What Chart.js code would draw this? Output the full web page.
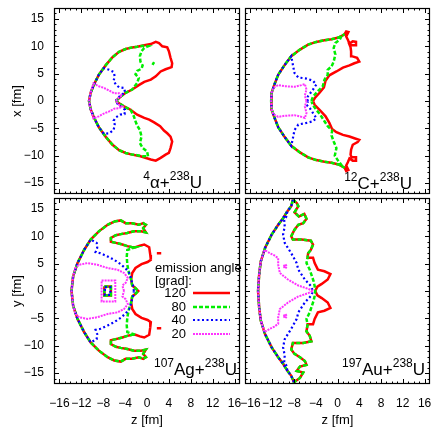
<!DOCTYPE html>
<html>
<head>
<meta charset="utf-8">
<script src="https://cdn.jsdelivr.net/npm/chart.js@4/dist/chart.umd.min.js"></script>
<style>
  body { margin: 0; background: #fff; }
  #wrap { position: relative; width: 435px; height: 429px; }
  #wrap canvas { position: absolute; left: 0; top: 0; }
</style>
</head>
<body>
<div id="wrap">
  <canvas id="c1" width="435" height="429"></canvas>
  <canvas id="c2" width="435" height="429"></canvas>
  <canvas id="c3" width="435" height="429"></canvas>
  <canvas id="c4" width="435" height="429"></canvas>
</div>
<script>
// axis setup shared by all four panels
const axisMin = -17, axisMax = 17;
const xTickValues = [-16, -12, -8, -4, 0, 4, 8, 12, 16];
const yTickValues = [-15, -10, -5, 0, 5, 10, 15];
const angleLabels = ['120', '80', '40', '20'];

// contour points [z, x/y] in fm, null = pen up

// 4He + 238U
const alphaRim = [[-2.7,9.8],[-3.9,9.5],[-5.1,9.0],[-6.3,8.0],[-7.5,6.6],[-8.8,4.8],[-9.7,3.0],[-10.3,1.5],[-10.6,0],
  [-10.3,-1.5],[-9.7,-3.0],[-8.8,-4.8],[-7.5,-6.6],[-6.3,-8.0],[-5.1,-9.0],[-3.9,-9.5],[-2.7,-9.8]];
const alpha120 = [[-5.7,0],[-4.8,0.8],[-3.9,1.5],[-2.7,2.1],[-1.5,2.9],[-0.5,3.5],[0.7,3.9],[1.6,4.5],[2.5,5.4],[3.4,5.8],
  [4.5,6.2],[4.6,6.9],[4.3,7.9],[4.0,9.1],[3.7,9.8],[2.8,10.0],[2.2,10.6],[1.6,10.8],[0.7,10.4],[-0.5,10.2],[-1.8,9.9],
  ...alphaRim,
  [-1.2,-10.1],[0.7,-10.7],[1.6,-10.9],[2.5,-10.4],[3.4,-9.8],[4.0,-9.5],[4.3,-8.6],[4.6,-7.4],[4.3,-6.5],[3.7,-5.9],
  [3.1,-5.4],[2.4,-4.6],[1.3,-3.9],[0.4,-3.4],[-0.5,-3.1],[-1.8,-2.5],[-3.0,-1.6],[-4.2,-1.0],[-5.1,-0.4],[-5.7,0]];
const alpha80 = [[-5.7,0],[-4.8,0.8],[-3.9,1.5],[-2.7,2.1],[-1.8,3.3],[-1.5,4.2],[-2.1,4.9],[-1.8,5.5],[-1.0,5.9],[-0.8,6.5],
  [-1.2,7.2],[-1.3,8.2],[-1.0,9.1],[-0.5,9.7],[0.2,10.0],[-0.8,10.1],[-1.8,9.9],
  ...alphaRim,
  [-1.8,-9.9],[-0.8,-10.1],[0.2,-10.1],[0.0,-9.2],[-0.8,-8.6],[-1.3,-7.7],[-1.0,-6.5],[-1.3,-5.3],[-1.8,-4.5],[-2.1,-3.7],
  [-2.4,-2.8],[-3.0,-1.6],[-4.2,-1.0],[-5.1,-0.4],[-5.7,0],
  null,[1.0,6.6],[1.3,7.1]];
const alpha40 = [[-5.7,0],[-5.4,0.5],[-4.8,1.0],[-4.0,1.6],[-4.2,2.4],[-5.1,2.5],[-5.7,3.0],[-6.1,3.7],[-5.9,4.5],[-6.1,5.3],
  [-6.9,5.7],[-7.9,6.0],[-8.8,4.8],[-9.7,3.0],[-10.3,1.5],[-10.6,0],[-10.3,-1.5],[-9.7,-3.0],[-8.8,-4.8],[-7.9,-6.0],
  [-6.9,-5.9],[-6.1,-5.3],[-5.9,-4.3],[-6.1,-3.6],[-5.7,-3.0],[-4.9,-2.5],[-4.1,-2.4],[-4.0,-1.6],[-4.8,-1.0],[-5.4,-0.5],[-5.7,0]];
const alpha20 = [[-5.7,0],[-5.1,0.7],[-4.5,1.0],[-5.1,1.4],[-6.0,1.4],[-6.9,1.9],[-7.9,2.4],[-8.8,2.7],[-9.8,3.2],[-10.3,1.5],
  [-10.6,0],[-10.3,-1.5],[-9.8,-3.2],[-8.8,-2.8],[-7.9,-2.3],[-6.9,-1.9],[-6.0,-1.4],[-5.1,-1.3],[-4.5,-1.0],[-5.1,-0.7],[-5.7,0]];

// 12C + 238U
const carbonRim = [[1.3,12.2],[0.2,11.6],[-1.1,11.3],[-2.4,11.1],[-3.9,10.8],[-5.4,10.3],[-6.9,9.4],[-8.5,8.2],[-9.7,6.6],
  [-10.9,4.8],[-11.6,3.0],[-12.1,1.5],[-12.2,0],[-12.1,-1.5],[-11.6,-3.0],[-10.9,-4.8],[-9.7,-6.6],[-8.5,-8.2],[-6.9,-9.4],
  [-5.4,-10.3],[-3.9,-10.8],[-2.4,-11.1],[-1.1,-11.3],[0.2,-11.6],[1.3,-12.2]];
const carbon120 = [[-4.5,0],[-4.2,0.5],[-3.3,1.5],[-2.5,2.5],[-2.2,3.7],[-1.5,4.7],[-0.2,5.4],[1.0,6.1],[2.2,6.5],[3.1,6.9],
  [4.0,7.2],[3.6,7.9],[2.6,8.2],[2.5,9.1],[2.4,9.8],[2.2,10.3],[2.6,10.2],[3.4,10.2],[3.4,10.8],[2.8,10.9],[2.2,10.5],
  [1.9,11.2],[1.6,11.8],[2.0,12.6],[1.6,12.7],
  ...carbonRim,
  [1.6,-12.8],[2.0,-12.6],[1.6,-11.8],[1.9,-11.2],[2.2,-10.5],[2.8,-10.9],[3.4,-10.9],[3.4,-10.3],[2.6,-10.3],[2.4,-9.8],
  [2.5,-8.9],[2.8,-8.0],[3.7,-7.5],[4.0,-7.1],[3.1,-6.8],[2.2,-6.5],[1.0,-6.2],[-0.2,-5.7],[-1.0,-5.1],[-1.5,-4.0],
  [-2.2,-2.8],[-3.3,-1.6],[-4.2,-0.7],[-4.5,0]];
const carbon80 = [[-4.8,0],[-4.5,0.8],[-3.6,1.8],[-2.7,2.7],[-2.4,3.9],[-1.8,4.8],[-1.8,5.7],[-1.1,6.3],[-0.7,7.2],[-0.4,8.5],
  [-0.7,9.7],[-0.4,10.6],[0.4,11.2],[0.8,12.0],
  ...carbonRim,
  [0.8,-11.8],[0.1,-10.9],[-0.5,-10.0],[-0.2,-8.6],[-0.7,-7.4],[-1.1,-6.3],[-1.0,-5.4],[-1.8,-4.6],[-2.4,-3.7],[-3.1,-2.6],
  [-3.9,-1.6],[-4.5,-0.8],[-4.8,0]];
const carbon40 = [[-5.4,0],[-5.7,0.5],[-5.1,1.3],[-4.5,2.1],[-3.9,3.0],[-4.5,3.7],[-5.7,4.1],[-7.2,4.3],[-7.9,5.1],[-8.2,6.6],
  [-8.5,8.2],[-9.7,6.6],[-10.9,4.8],[-11.6,3.0],[-12.1,1.5],[-12.2,0],[-12.1,-1.5],[-11.6,-3.0],[-10.9,-4.8],[-9.7,-6.6],
  [-8.5,-8.2],[-8.2,-6.8],[-7.9,-5.3],[-7.2,-4.3],[-5.7,-4.0],[-4.5,-3.7],[-3.9,-3.1],[-4.5,-2.2],[-5.1,-1.3],[-5.7,-0.7],[-5.4,0]];
const carbon20 = [[-5.7,0],[-6.0,1.0],[-5.7,2.1],[-6.0,3.1],[-6.6,2.9],[-7.9,2.6],[-9.7,2.7],[-10.9,2.9],[-11.8,2.4],[-12.1,1.5],
  [-12.2,0],[-12.1,-1.5],[-11.8,-2.4],[-10.9,-2.9],[-9.7,-2.7],[-7.9,-2.6],[-6.6,-2.9],[-6.0,-3.1],[-5.7,-2.2],[-6.0,-1.0],[-5.7,0]];

// 107Ag + 238U
const silverTop = [[-6.0,12.7],[-4.8,12.9],[-3.9,12.4],[-2.7,12.4],[-1.5,12.1],[-0.7,12.4],[-0.2,12.1],[-0.7,11.5],[-0.2,10.7],
  [-1.1,10.9],[-2.4,10.9],[-3.6,10.6],[-4.8,10.4],[-5.7,10.2],[-6.6,9.7],[-6.6,9.0],[-5.7,8.8],[-4.5,8.5],[-3.6,8.2],[-2.7,8.0],[-2.1,8.0]];
const silverBottom = [[-2.1,-8.0],[-2.7,-8.0],[-3.6,-8.2],[-4.5,-8.5],[-5.7,-8.8],[-6.6,-9.0],[-6.6,-9.7],[-5.7,-10.2],[-4.8,-10.4],
  [-3.6,-10.6],[-2.4,-10.9],[-1.1,-10.9],[-0.2,-10.7],[-0.7,-11.5],[-0.2,-12.1],[-0.7,-12.4],[-1.5,-12.1],[-2.7,-12.4],
  [-3.9,-12.4],[-4.8,-12.9],[-6.0,-12.7]];
const silverRim = [[-6.0,-12.7],[-7.2,-12.1],[-8.8,-10.9],[-10.3,-9.4],[-11.5,-7.5],[-12.7,-5.1],[-13.5,-2.7],[-13.8,0],
  [-13.5,2.7],[-12.7,5.1],[-11.5,7.5],[-10.3,9.4],[-8.8,10.9],[-7.2,12.1],[-6.0,12.7]];
const silver120 = [...silverTop,
  [-1.3,8.3],[-0.5,8.5],[0.4,8.0],[0.6,6.6],[0.7,5.7],[0.1,5.3],[-1.0,4.9],[-2.1,4.2],[-2.7,3.3],[-2.9,2.1],[-2.7,1.0],
  [-2.1,0.5],[-1.6,0],[-2.1,-0.5],[-2.7,-1.0],[-2.9,-2.1],[-2.7,-3.3],[-2.1,-4.2],[-1.0,-4.9],[0.1,-5.3],[0.7,-5.7],
  [0.6,-6.6],[0.4,-8.0],[-0.5,-8.5],[-1.3,-8.3],
  ...silverBottom, ...silverRim,
  null,[-7.8,0.8],[-6.6,0.8],[-6.6,-0.8],[-7.8,-0.8],[-7.8,0.8],
  null,[1.8,6.9],[2.6,6.9],
  null,[1.8,-6.8],[2.6,-6.8]];
const silver80 = [...silverTop,
  [-3.6,7.5],[-3.7,6.3],[-3.6,4.8],[-3.3,3.3],[-2.9,2.1],[-2.7,1.0],[-2.1,0.5],[-1.6,0],[-2.1,-0.5],[-2.7,-1.0],[-2.9,-2.1],
  [-3.3,-3.3],[-3.6,-4.8],[-3.7,-6.3],[-3.6,-7.5],
  ...silverBottom, ...silverRim,
  null,[-7.8,0.8],[-6.6,0.8],[-6.6,-0.8],[-7.8,-0.8],[-7.8,0.8]];
const silver40 = [[-2.4,0],[-2.5,0.8],[-2.9,2.1],[-3.1,3.1],[-3.9,4.1],[-4.8,4.9],[-6.0,5.7],[-7.2,6.3],[-8.5,6.9],[-9.4,7.1],
  [-9.1,7.9],[-9.2,8.8],[-10.3,9.4],[-11.5,7.5],[-12.7,5.1],[-13.5,2.7],[-13.8,0],[-13.5,-2.7],[-12.7,-5.1],[-11.5,-7.5],
  [-10.3,-9.4],[-9.2,-8.8],[-9.1,-7.9],[-9.4,-7.1],[-8.5,-6.9],[-7.2,-6.3],[-6.0,-5.7],[-4.8,-4.9],[-3.9,-4.1],[-3.1,-3.1],
  [-2.9,-2.1],[-2.5,-0.8],[-2.4,0],
  null,[-7.7,0.7],[-6.7,0.7],[-6.7,-0.7],[-7.7,-0.7],[-7.7,0.7]];
const silver20 = [[-4.2,0],[-4.5,1.0],[-3.9,1.5],[-3.5,2.4],[-4.2,3.3],[-5.4,3.9],[-7.2,4.2],[-9.1,4.8],[-10.9,5.1],[-12.4,4.8],
  [-13.1,4.2],[-13.5,2.7],[-13.8,0],[-13.5,-2.7],[-13.1,-4.2],[-12.4,-4.8],[-10.9,-5.1],[-9.1,-4.8],[-7.2,-4.2],[-5.4,-3.9],
  [-4.2,-3.3],[-3.5,-2.4],[-3.9,-1.5],[-4.5,-1.0],[-4.2,0],
  null,[-8.3,1.9],[-5.8,1.9],[-5.8,-1.9],[-8.3,-1.9],[-8.3,1.9]];

// 197Au + 238U
const goldTop = [[-8.2,16.7],[-7.5,16.1],[-7.2,15.5],[-7.9,14.4],[-7.1,13.6],[-6.1,14.1],[-5.7,13.2],[-6.3,12.4],[-7.2,12.1],
  [-7.9,11.2],[-8.5,10.0],[-8.2,9.4],[-6.6,9.4],[-4.9,9.2],[-4.5,8.5],[-4.9,7.5],[-5.4,6.9],[-5.5,6.1]];
const goldBottom = [[-5.5,-6.1],[-5.7,-7.4],[-5.1,-8.2],[-4.8,-9.2],[-6.3,-9.5],[-8.2,-9.5],[-8.5,-10.7],[-7.9,-11.5],[-6.9,-12.1],
  [-6.0,-12.8],[-5.7,-13.5],[-6.9,-13.8],[-7.5,-14.6],[-6.3,-14.9],[-6.9,-15.9],[-8.0,-16.7]];
const goldRim = [[-8.0,-16.7],[-8.5,-15.5],[-9.2,-14.6],[-10.0,-13.3],[-10.9,-12.1],[-12.1,-10.3],[-13.3,-7.9],[-14.1,-5.4],
  [-14.4,-3.0],[-14.6,0],[-14.4,3.0],[-14.1,5.4],[-13.3,7.9],[-12.1,10.3],[-10.9,12.1],[-10.0,13.3],[-9.2,14.6],[-8.5,15.5],[-8.2,16.7]];
const gold120 = [...goldTop,
  [-4.5,6.1],[-4.2,5.1],[-3.6,3.9],[-2.4,3.6],[-1.3,3.1],[-1.8,2.1],[-2.9,1.3],[-3.7,0.8],[-4.1,0],[-3.7,-0.8],[-2.9,-1.3],
  [-1.8,-2.1],[-1.3,-3.1],[-2.4,-3.6],[-3.6,-3.9],[-4.2,-5.1],[-4.5,-6.1],
  ...goldBottom, ...goldRim];
const gold80 = [...goldTop,
  [-5.7,5.1],[-5.1,3.9],[-4.8,3.0],[-4.4,1.8],[-4.2,0.9],[-4.1,0],[-4.2,-0.9],[-4.4,-1.8],[-4.8,-3.0],[-5.1,-3.9],[-5.7,-5.1],
  ...goldBottom, ...goldRim];
const gold40 = [[-8.2,16.7],[-8.5,15.5],[-9.2,14.6],[-9.4,13.6],[-9.8,13.0],[-9.7,11.8],[-10.0,10.3],[-9.7,8.8],[-8.5,6.9],
  [-7.5,5.1],[-7.2,3.9],[-6.0,2.1],[-4.9,0.9],[-4.5,0],[-4.9,-0.9],[-6.0,-2.1],[-7.2,-3.9],[-7.5,-5.1],[-8.5,-6.9],
  [-9.7,-8.8],[-10.0,-10.3],[-9.7,-11.8],[-9.8,-13.0],[-9.4,-13.6],[-9.2,-14.6],[-8.5,-15.5],[-8.0,-16.7],
  null, ...goldRim.slice(2, 17)];
const gold20 = [[-4.5,0],[-5.4,0.4],[-7.2,1.0],[-9.1,2.1],[-10.6,3.3],[-10.9,4.8],[-10.9,6.0],[-11.6,6.5],[-12.4,6.9],[-13.4,7.5],
  [-14.1,5.4],[-14.4,3.0],[-14.6,0],[-14.4,-3.0],[-14.1,-5.4],[-13.4,-7.5],[-12.4,-6.9],[-11.6,-6.5],[-10.9,-6.0],[-10.9,-4.8],
  [-10.6,-3.3],[-9.1,-2.1],[-7.2,-1.0],[-5.4,-0.4],[-4.5,0],
  null,[-9.9,4.5],[-9.6,4.9],[-9.3,4.5],[-9.6,4.1],[-9.9,4.5],
  null,[-9.9,-4.6],[-9.6,-4.2],[-9.3,-4.6],[-9.6,-5.0],[-9.9,-4.6]];

// line styles per emission angle (gnuplot look)
const lineStyles = [
  { color: '#ff0000', width: 2.5, dash: [] },
  { color: '#00ee00', width: 2.5, dash: [4, 2] },
  { color: '#0000ff', width: 2.2, dash: [2, 2.5] },
  { color: '#ff33ff', width: 2, dash: [2, 1] }
];

const W = 435, H = 429;
const FONT = "'Liberation Sans', Arial, sans-serif";
Chart.defaults.font.family = FONT;
Chart.defaults.color = '#000';

const panels = [
  { id: 'c1', box: [54, 8, 240, 194], series: [alpha120, alpha80, alpha40, alpha20], xLabels: false, yLabels: true,
    yTitle: 'x [fm]', tag: [['4', 1], ['\u03b1+', 0], ['238', 1], ['U', 0]], tagAt: [202, 188] },
  { id: 'c2', box: [245, 8, 430, 194], series: [carbon120, carbon80, carbon40, carbon20], xLabels: false, yLabels: false,
    tag: [['12', 1], ['C+', 0], ['238', 1], ['U', 0]], tagAt: [412, 189] },
  { id: 'c3', box: [54, 198, 240, 384], series: [silver120, silver80, silver40, silver20], xLabels: true, yLabels: true,
    yTitle: 'y [fm]', xTitle: 'z [fm]', legend: true, tag: [['107', 1], ['Ag+', 0], ['238', 1], ['U', 0]], tagAt: [237, 375] },
  { id: 'c4', box: [245, 198, 430, 384], series: [gold120, gold80, gold40, gold20], xLabels: true, yLabels: false,
    xTitle: 'z [fm]', tag: [['197', 1], ['Au+', 0], ['238', 1], ['U', 0]], tagAt: [425, 375] }
];

function toPoints(list) {
  return list.map(p => p ? { x: p[0], y: p[1] } : { x: null, y: null });
}

function tickText(v) {
  return v < 0 ? '\u2212' + Math.abs(v) : String(v);
}

function noPadding(s) {
  s.paddingTop = s.paddingBottom = s.paddingLeft = s.paddingRight = 0;
}

function drawTag(ctx, parts, right, base) {
  const big = '17px ' + FONT, small = '12px ' + FONT;
  let w = 0;
  parts.forEach(([t, sup]) => { ctx.font = sup ? small : big; w += ctx.measureText(t).width; });
  let x = right - w;
  ctx.textAlign = 'left';
  ctx.textBaseline = 'alphabetic';
  parts.forEach(([t, sup]) => {
    ctx.font = sup ? small : big;
    ctx.fillText(t, x, sup ? base - 8.5 : base);
    x += ctx.measureText(t).width;
  });
}

function drawLegend(ctx) {
  ctx.font = '13px ' + FONT;
  ctx.textBaseline = 'alphabetic';
  ctx.textAlign = 'left';
  ctx.fillText('emission angle', 155, 272);
  ctx.fillText('[grad]:', 155, 285);
  angleLabels.forEach((lab, i) => {
    const y = Math.round(293 + i * 13.6);
    ctx.textAlign = 'right';
    ctx.textBaseline = 'middle';
    ctx.fillStyle = '#000';
    ctx.fillText(lab, 186, y);
    const s = lineStyles[i];
    ctx.save();
    ctx.beginPath();
    ctx.strokeStyle = s.color;
    ctx.lineWidth = s.width;
    ctx.setLineDash(s.dash);
    ctx.moveTo(193, y);
    ctx.lineTo(230, y);
    ctx.stroke();
    ctx.restore();
  });
}

function makeDecor(p) {
  return {
    id: 'decor',
    afterDraw(chart) {
      const { ctx, chartArea: a, scales: { x, y } } = chart;
      ctx.save();
      // frame with inward ticks on all sides
      ctx.strokeStyle = '#000';
      ctx.lineWidth = 1.2;
      ctx.strokeRect(a.left + 0.5, a.top + 0.5, a.right - a.left - 1, a.bottom - a.top - 1);
      ctx.lineWidth = 1;
      ctx.beginPath();
      for (let v = axisMin + 1; v < axisMax; v++) {
        const lx = xTickValues.includes(v) ? 5 : 2.5;
        const px = Math.round(x.getPixelForValue(v)) + 0.5;
        ctx.moveTo(px, a.bottom); ctx.lineTo(px, a.bottom - lx);
        ctx.moveTo(px, a.top); ctx.lineTo(px, a.top + lx);
        const ly = yTickValues.includes(v) ? 5 : 2.5;
        const py = Math.round(y.getPixelForValue(v)) + 0.5;
        ctx.moveTo(a.left, py); ctx.lineTo(a.left + ly, py);
        ctx.moveTo(a.right, py); ctx.lineTo(a.right - ly, py);
      }
      ctx.stroke();

      ctx.fillStyle = '#000';
      drawTag(ctx, p.tag, p.tagAt[0], p.tagAt[1]);

      ctx.font = '13px ' + FONT;
      ctx.textAlign = 'center';
      ctx.textBaseline = 'middle';
      if (p.yTitle) {
        ctx.save();
        ctx.translate(17, (a.top + a.bottom) / 2);
        ctx.rotate(-Math.PI / 2);
        ctx.fillText(p.yTitle, 0, 0);
        ctx.restore();
      }
      if (p.xTitle) {
        ctx.fillText(p.xTitle, (a.left + a.right) / 2, 420);
      }
      if (p.legend) drawLegend(ctx);
      ctx.restore();
    }
  };
}

panels.forEach(p => {
  const [l, t, r, b] = p.box;
  // y axis box holds the tick labels on the left panels, x axis box on the bottom panels
  const yBox = p.yLabels ? l : 0;
  const xBox = p.xLabels ? H - b : 0;
  new Chart(document.getElementById(p.id), {
    type: 'line',
    data: {
      datasets: p.series.map((list, i) => ({
        label: angleLabels[i],
        data: toPoints(list),
        borderColor: lineStyles[i].color,
        borderWidth: lineStyles[i].width,
        borderDash: lineStyles[i].dash,
        pointRadius: 0,
        fill: false,
        order: 4 - i
      }))
    },
    options: {
      responsive: false,
      animation: false,
      events: [],
      layout: { autoPadding: false, padding: { left: l - yBox, top: t, right: W - r, bottom: H - b - xBox } },
      plugins: { legend: { display: false }, tooltip: { enabled: false } },
      scales: {
        x: {
          type: 'linear', min: axisMin, max: axisMax,
          afterFit: s => { s.height = xBox; noPadding(s); },
          afterBuildTicks: s => { s.ticks = xTickValues.map(v => ({ value: v })); },
          grid: { display: false, drawTicks: false },
          border: { display: false },
          ticks: { display: p.xLabels, padding: 12, autoSkip: false, maxRotation: 0, minRotation: 0,
            font: { size: 12 }, callback: tickText }
        },
        y: {
          type: 'linear', min: axisMin, max: axisMax,
          afterFit: s => { s.width = yBox; noPadding(s); },
          afterBuildTicks: s => { s.ticks = yTickValues.map(v => ({ value: v })); },
          grid: { display: false, drawTicks: false },
          border: { display: false },
          ticks: { display: p.yLabels, padding: 10, autoSkip: false, font: { size: 12 }, callback: tickText }
        }
      }
    },
    plugins: [makeDecor(p)]
  });
});
</script>
</body>
</html>
